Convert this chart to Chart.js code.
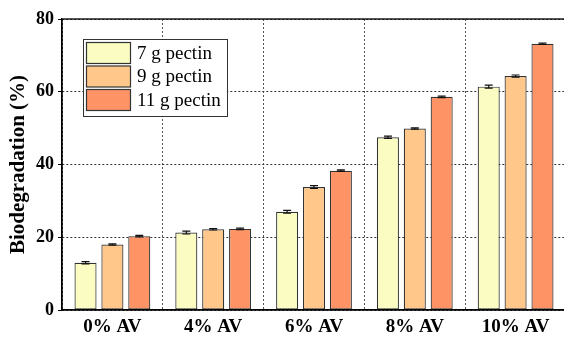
<!DOCTYPE html>
<html>
<head>
<meta charset="utf-8">
<script src="https://cdn.jsdelivr.net/npm/chart.js@4.4.0/dist/chart.umd.min.js"></script>
<style>
  html, body { margin: 0; padding: 0; background: #fff; overflow: hidden; }
  #wrap { width: 566px; height: 337px; }
</style>
</head>
<body>
<div id="wrap"><canvas id="bioChart" width="566" height="337"></canvas></div>
<script>
// ===== data =====
const categories = ['0% AV', '4% AV', '6% AV', '8% AV', '10% AV'];
const seriesLabels = ['7 g pectin', '9 g pectin', '11 g pectin'];
const pectin7 = [13.0, 21.3, 27.0, 47.5, 61.4];
const pectin9 = [18.0, 22.2, 33.8, 49.9, 64.3];
const pectin11 = [20.3, 22.3, 38.3, 58.6, 73.2];
const err7 = [0.3, 0.4, 0.4, 0.3, 0.4];
const err9 = [0.2, 0.2, 0.4, 0.2, 0.3];
const err11 = [0.2, 0.2, 0.2, 0.2, 0.2];
const yTicks = [0, 20, 40, 60, 80];

const fills = ['#fafcc2', '#ffc78a', '#fe9466'];
const SERIF = "'Liberation Serif', 'Times New Roman', serif";

// ===== error bars, drawn from the y scale =====
const errorBars = {
  id: 'errorBars',
  afterDatasetsDraw(chart) {
    const ctx = chart.ctx;
    const y = chart.scales.y;
    chart.data.datasets.forEach((ds, i) => {
      const meta = chart.getDatasetMeta(i);
      meta.data.forEach((bar, j) => {
        const v = ds.data[j], e = ds.errors[j];
        const top = y.getPixelForValue(v + e);
        const bot = y.getPixelForValue(v - e);
        ctx.save();
        ctx.strokeStyle = '#111';
        ctx.lineWidth = 1.2;
        ctx.beginPath();
        ctx.moveTo(bar.x, top); ctx.lineTo(bar.x, bot);
        ctx.moveTo(bar.x - 4, top); ctx.lineTo(bar.x + 4, top);
        ctx.moveTo(bar.x - 4, bot); ctx.lineTo(bar.x + 4, bot);
        ctx.stroke();
        ctx.restore();
      });
    });
  }
};

// ===== frame on top of the plot + boxed legend =====
const frameAndLegend = {
  id: 'frameAndLegend',
  afterDraw(chart) {
    const ctx = chart.ctx;
    const a = chart.chartArea;
    ctx.save();
    ctx.strokeStyle = '#000';
    ctx.lineWidth = 1.3;
    ctx.strokeRect(a.left, a.top, a.right - a.left, a.bottom - a.top);

    // legend box
    const bx = 83, by = 39, bw = 144, bh = 77;
    ctx.fillStyle = '#fff';
    ctx.fillRect(bx, by, bw, bh);
    ctx.lineWidth = 1;
    ctx.strokeStyle = '#333';
    ctx.strokeRect(bx + 0.5, by + 0.5, bw, bh);
    ctx.font = '19px ' + SERIF;
    ctx.textBaseline = 'middle';
    chart.data.datasets.forEach((ds, i) => {
      const ry = by + 3 + i * 23.5;
      ctx.fillStyle = ds.backgroundColor;
      ctx.fillRect(bx + 3.5, ry + 0.5, 44, 21);
      ctx.strokeStyle = '#333';
      ctx.lineWidth = 1.2;
      ctx.strokeRect(bx + 3.5, ry + 0.5, 44, 21);
      ctx.fillStyle = '#000';
      ctx.fillText(ds.label, bx + 54, ry + 12);
    });
    ctx.restore();
  }
};

function makeSet(label, data, errors, color) {
  return {
    label: label,
    data: data,
    errors: errors,
    backgroundColor: color,
    borderColor: '#333',
    borderWidth: 1.2,
    borderSkipped: false,
    categoryPercentage: 0.8,
    barPercentage: 0.82
  };
}

new Chart(document.getElementById('bioChart').getContext('2d'), {
  type: 'bar',
  data: {
    labels: categories,
    datasets: [
      makeSet(seriesLabels[0], pectin7, err7, fills[0]),
      makeSet(seriesLabels[1], pectin9, err9, fills[1]),
      makeSet(seriesLabels[2], pectin11, err11, fills[2])
    ]
  },
  options: {
    responsive: false,
    animation: false,
    layout: { padding: { top: 19, right: 0, left: 0, bottom: 0 } },
    plugins: {
      legend: { display: false },
      tooltip: { enabled: false }
    },
    scales: {
      x: {
        afterFit: s => { s.height = 27; },
        grid: { color: '#555', lineWidth: 1, drawTicks: false, offset: true },
        border: { color: '#000', width: 1.3, dash: [2, 2] },
        ticks: { color: '#000', padding: 6, font: { family: SERIF, size: 19, weight: 'bold' } }
      },
      y: {
        min: 0,
        max: 80,
        afterFit: s => { s.width = 62; },
        afterBuildTicks: s => { s.ticks = yTicks.map(v => ({ value: v })); },
        grid: { color: '#333', lineWidth: 1, tickLength: 4, tickColor: '#000', tickBorderDash: [] },
        border: { color: '#000', width: 1.3, dash: [2, 2] },
        ticks: { color: '#000', padding: 4, font: { family: SERIF, size: 18, weight: 'bold' } },
        title: {
          display: true,
          text: 'Biodegradation (%)',
          color: '#000',
          padding: { top: 6, bottom: 0 },
          font: { family: SERIF, size: 21, weight: 'bold' }
        }
      }
    }
  },
  plugins: [errorBars, frameAndLegend]
});
</script>
</body>
</html>
